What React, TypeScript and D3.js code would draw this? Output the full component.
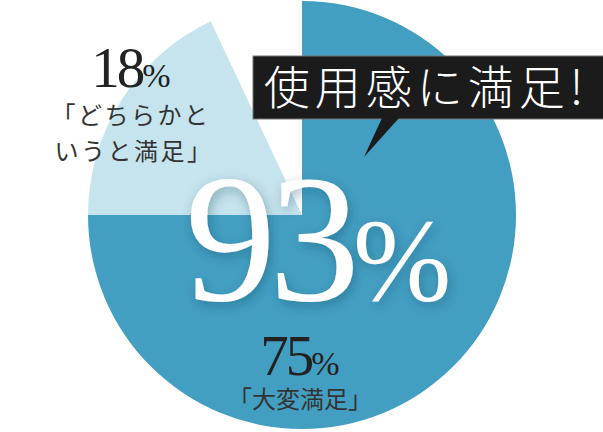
import React from 'react';
import * as d3 from 'd3';

const categories = ['大変満足', 'どちらかというと満足', 'その他'];
const values = [75, 18, 7];
const sliceColors = ['#439fc2', '#c6e4ee', '#ffffff'];
const totalLabel = '93';
const headline = '使用感に満足!';

const W = 603;
const H = 432;
const cx = 302;
const cy = 215;
const radius = 214;

const serif = '"Liberation Serif", "DejaVu Serif", serif';
const jp = '"Noto Sans CJK JP", "Noto Sans", sans-serif';

export default function App() {
  const pie = d3
    .pie<number>()
    .sort(null)
    .value(d => d)
    .startAngle(0)
    .endAngle(2 * Math.PI);
  const arcs = pie(values);
  const arc = d3.arc<d3.PieArcDatum<number>>().innerRadius(0).outerRadius(radius);

  return (
    <svg
      width={W}
      height={H}
      style={{ position: 'absolute', left: 0, top: 0, background: '#fff' }}
    >
      <defs>
        <filter id="shadow" x="-20%" y="-20%" width="140%" height="140%">
          <feDropShadow dx="2" dy="4" stdDeviation="6" floodColor="#0a3a55" floodOpacity="0.35" />
        </filter>
      </defs>

      <g transform={`translate(${cx},${cy})`}>
        {arcs.map((a, i) => (
          <path key={categories[i]} d={arc(a) || ''} fill={sliceColors[i]} />
        ))}
      </g>

      {/* big total */}
      <text
        y={300}
        fill="#fff"
        fontFamily={serif}
        filter="url(#shadow)"
      >
        <tspan x={185} fontSize={182} letterSpacing={-7}>{totalLabel}</tspan>
        <tspan fontSize={118} dx={0}>%</tspan>
      </text>

      {/* 18% label */}
      <text x={131} y={87} textAnchor="middle" fill="#222" fontFamily={serif}>
        <tspan fontSize={57} letterSpacing={-3}>{values[1]}</tspan>
        <tspan fontSize={34}>%</tspan>
      </text>
      <text
        x={131}
        y={124}
        textAnchor="middle"
        fill="#333"
        fontFamily={jp}
        fontSize={24}
        letterSpacing={2.5}
      >
        「どちらかと
      </text>
      <text
        x={134}
        y={160}
        textAnchor="middle"
        fill="#333"
        fontFamily={jp}
        fontSize={24}
        letterSpacing={2.5}
      >
        いうと満足」
      </text>

      {/* 75% label */}
      <text x={300} y={375} textAnchor="middle" fill="#222" fontFamily={serif}>
        <tspan fontSize={57} letterSpacing={-3}>{values[0]}</tspan>
        <tspan fontSize={34}>%</tspan>
      </text>
      <text
        x={300}
        y={408}
        textAnchor="middle"
        fill="#333"
        fontFamily={jp}
        fontSize={24}
        letterSpacing={0}
      >
        「{categories[0]}」
      </text>

      {/* speech banner */}
      <rect x={253} y={56} width={370} height={63} fill="#1b1b1b" stroke="#777" strokeWidth={1} />
      <polygon points="382,118 399,118 364,157" fill="#1b1b1b" />
      <text
        x={426}
        y={104}
        textAnchor="middle"
        fill="#fff"
        fontFamily={jp}
        fontWeight={300}
        fontSize={46}
        letterSpacing={5}
      >
        {headline}
      </text>
    </svg>
  );
}
